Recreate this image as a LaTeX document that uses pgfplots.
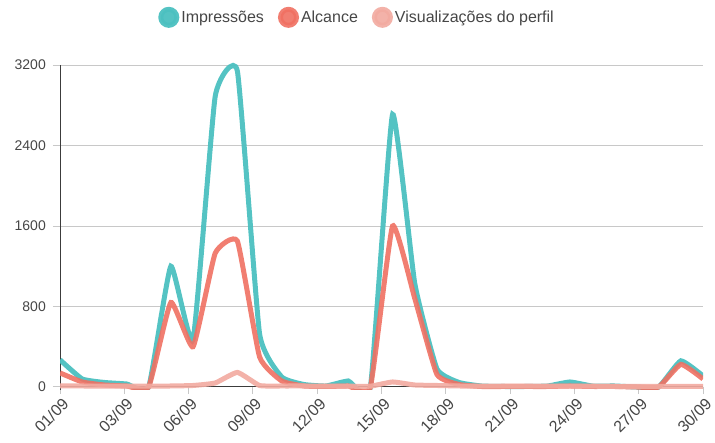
\documentclass[border=0pt]{standalone}
\usepackage{pgfplots}
\pgfplotsset{compat=1.18}
\usepackage{fontspec}
\setmainfont{Liberation Sans}
\definecolor{imp}{RGB}{75,192,192}
\definecolor{alc}{RGB}{240,112,98}
\definecolor{vis}{RGB}{242,170,160}
\definecolor{gridc}{RGB}{200,200,200}
\definecolor{axc}{RGB}{60,60,60}
\definecolor{txt}{RGB}{70,70,70}
\begin{document}
\begin{tikzpicture}[x=1pt,y=1pt]
\useasboundingbox (-60,-56) rectangle (655,387);
\begin{axis}[
  at={(0,0)}, anchor=origin,
  scale only axis, width=643pt, height=328.5pt,
  xmin=0, xmax=29, ymin=-25, ymax=3240,
  axis x line*=middle, axis y line*=left,
  hide obscured x ticks=false,
  axis line style={axc, line width=1pt, -},
  y axis line style={shorten >=4pt},
  xtick={0,2.9,5.8,8.7,11.6,14.5,17.4,20.3,23.2,26.1,29},
  xticklabels={01/09,03/09,06/09,09/09,12/09,15/09,18/09,21/09,24/09,27/09,30/09},
  ytick={0,800,1600,2400,3200},
  ymajorgrids, grid style={gridc, line width=1pt},
  major tick style={gridc, line width=1pt},
  tick align=outside, major tick length=7pt,
  x tick label style={rotate=45, anchor=north east, font=\fontsize{16}{18}\selectfont, text=txt, inner sep=1pt, yshift=-2pt},
  y tick label style={font=\fontsize{14}{16}\selectfont, text=txt, inner sep=1pt, xshift=-6pt},
  scaled y ticks=false,
  /pgf/number format/assume math mode=true,
  /pgf/number format/set thousands separator={},
  clip=true,
  legend style={at={(0.462,1.133)}, anchor=center, draw=none, fill=none,
    legend columns=3, font=\fontsize{16}{19}\selectfont, text=txt,
    nodes={inner sep=2pt},
    /tikz/every even column/.append style={column sep=12pt}},
  legend cell align=left,
]
\addplot[imp, line width=5pt, smooth, tension=0.25, opacity=0.95,
  legend image code/.code={\fill[imp] (7.5pt,0pt) circle (8pt);}]
coordinates {(0,270)(1,80)(2,45)(3,30)(4,0)(5,1200)(6,470)(7,2890)(8,3140)(9,530)
(10,100)(11,25)(12,10)(13,60)(14,0)(15,2710)(16,1030)(17,180)(18,45)(19,10)
(20,5)(21,5)(22,10)(23,50)(24,10)(25,10)(26,0)(27,0)(28,260)(29,110)};
\addlegendentry{Impressões}
\addplot[alc, line width=5pt, smooth, tension=0.25, opacity=0.9,
  legend image code/.code={\fill[alc] (7.5pt,0pt) circle (8pt);}]
coordinates {(0,140)(1,50)(2,20)(3,10)(4,0)(5,840)(6,400)(7,1330)(8,1450)(9,300)
(10,60)(11,10)(12,5)(13,10)(14,0)(15,1600)(16,880)(17,125)(18,25)(19,5)
(20,5)(21,5)(22,5)(23,10)(24,5)(25,5)(26,0)(27,0)(28,225)(29,80)};
\addlegendentry{Alcance}
\addplot[vis, line width=5pt, smooth, tension=0.25, opacity=0.9,
  legend image code/.code={\fill[vis] (7.5pt,0pt) circle (8pt);}]
coordinates {(0,10)(1,10)(2,8)(3,8)(4,8)(5,10)(6,15)(7,40)(8,145)(9,15)
(10,10)(11,10)(12,8)(13,8)(14,8)(15,50)(16,20)(17,15)(18,10)(19,8)
(20,8)(21,8)(22,8)(23,8)(24,8)(25,5)(26,5)(27,5)(28,5)(29,5)};
\addlegendentry{Visualizações do perfil}
\end{axis}
\end{tikzpicture}
\end{document}
